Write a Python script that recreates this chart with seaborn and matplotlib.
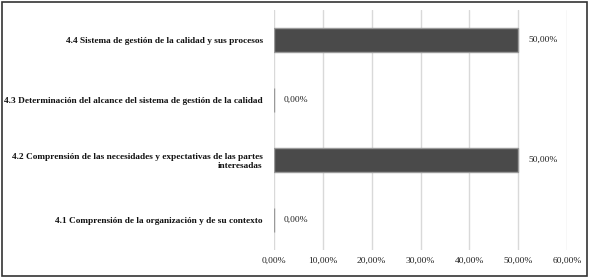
import matplotlib
matplotlib.use("Agg")
import matplotlib.pyplot as plt
import seaborn as sns
import pandas as pd
from matplotlib.patches import Rectangle

categories = [
    "4.4 Sistema de gestión de la calidad y sus procesos",
    "4.3 Determinación del alcance del sistema de gestión de la calidad",
    "4.2 Comprensión de las necesidades y expectativas de las partes\ninteresadas",
    "4.1 Comprensión de la organización y de su contexto",
]
values = [0.50, 0.0, 0.50, 0.0]
value_labels = ["50,00%", "0,00%", "50,00%", "0,00%"]
xticks = [0, 0.1, 0.2, 0.3, 0.4, 0.5, 0.6]
xtick_labels = ["0,00%", "10,00%", "20,00%", "30,00%", "40,00%", "50,00%", "60,00%"]

sns.set_theme(style="white")
plt.rcParams["font.family"] = ["Liberation Serif", "DejaVu Serif"]

df = pd.DataFrame({"cat": categories, "val": values})

fig = plt.figure(figsize=(5.89, 2.78), dpi=100)
ax = fig.add_axes([0.465, 0.101, 0.498, 0.863])
sns.barplot(data=df, y="cat", x="val", orient="h", color="#4a4a4a", width=0.4,
            edgecolor="#9a9a9a", linewidth=1.0, ax=ax)

ax.set_xlim(0, 0.6)
ax.set_xticks(xticks)
ax.set_xticklabels(xtick_labels, fontsize=6.8, color="#222222")
ax.tick_params(axis="x", length=0, pad=5)
ax.tick_params(axis="y", length=0, pad=8)
for lbl in ax.get_yticklabels():
    lbl.set_fontsize(6.7)
    lbl.set_color("#111111")
    lbl.set_fontweight("bold")
    lbl.set_multialignment("right")
ax.set_xlabel("")
ax.set_ylabel("")
ax.grid(axis="x", color="#d9d9d9", linewidth=1.0)
ax.set_axisbelow(True)
for s in ax.spines.values():
    s.set_visible(False)
ax.axvline(0, color="#cfcfcf", linewidth=1.2, zorder=0)

for i, (v, t) in enumerate(zip(values, value_labels)):
    ax.annotate(t, xy=(v, i), xytext=(7, 0), textcoords="offset points",
                va="center", ha="left", fontsize=6.8, color="#222222")

fig.patches.append(Rectangle((0.004, 0.007), 0.992, 0.986, transform=fig.transFigure,
                             fill=False, edgecolor="#333333", linewidth=1.2))

fig.savefig("out.png", dpi=100, facecolor="white")
